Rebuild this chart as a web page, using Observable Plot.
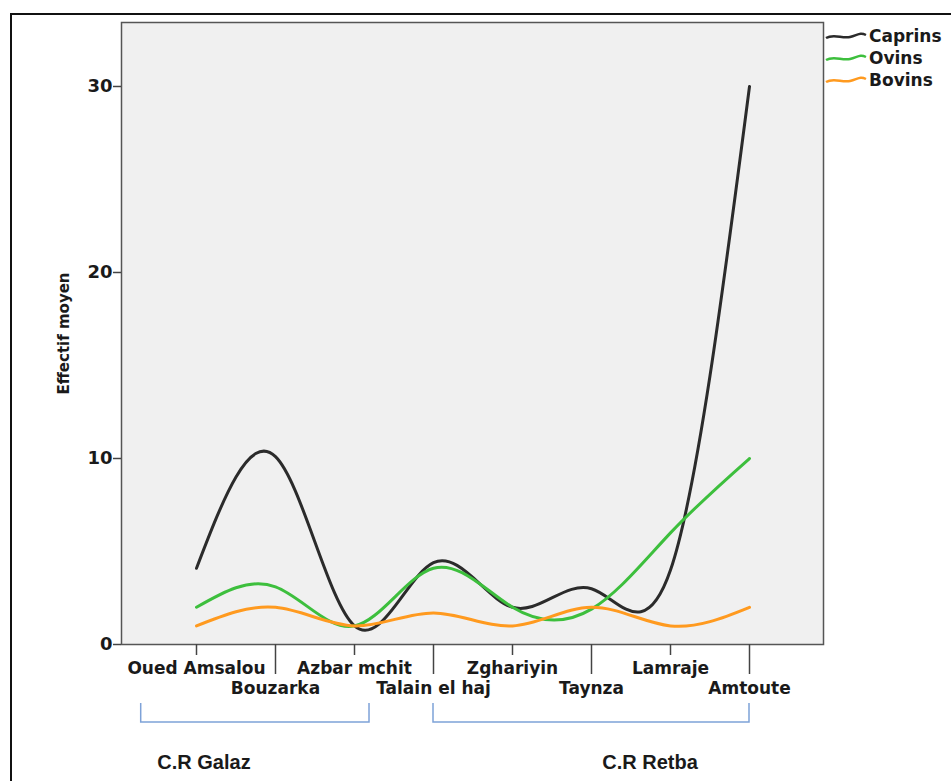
<!DOCTYPE html>
<html>
<head>
<meta charset="utf-8">
<script src="https://cdn.jsdelivr.net/npm/d3@7"></script>
<script src="https://cdn.jsdelivr.net/npm/@observablehq/plot@0.6"></script>
<style>
  html, body { margin: 0; padding: 0; background: #fff; width: 951px; height: 781px; overflow: hidden; }
  #wrap { position: relative; width: 951px; height: 781px; }
  #frame { position: absolute; left: 10px; top: 13px; width: 980px; height: 820px; border: 2.5px solid #111; box-sizing: border-box; }
  #chart { position: absolute; left: 0; top: 0; }
  #overlay { position: absolute; left: 0; top: 0; }
</style>
</head>
<body>
<div id="wrap">
  <div id="frame"></div>
  <div id="chart"></div>
  <svg id="overlay" width="951" height="781"></svg>
</div>
<script>
const categories = ["Oued Amsalou", "Bouzarka", "Azbar mchit", "Talain el haj", "Zghariyin", "Taynza", "Lamraje", "Amtoute"];
const seriesNames = ["Caprins", "Ovins", "Bovins"];
const seriesColors = ["#2b2b2b", "#3dbf3d", "#ff9a1f"];
const caprins = [4.1, 10.1, 1.0, 4.4, 2.0, 3.0, 4.0, 30.0];
const ovins   = [2.0, 3.1, 1.0, 4.1, 2.0, 1.9, 6.0, 10.0];
const bovins  = [1.0, 2.0, 1.0, 1.7, 1.0, 2.0, 1.0, 2.0];
const yTicks = [0, 10, 20, 30];
const groups = [
  {name: "C.R Galaz", from: "Oued Amsalou", to: "Azbar mchit"},
  {name: "C.R Retba", from: "Talain el haj", to: "Amtoute"}
];

const valuesBySeries = [caprins, ovins, bovins];
const data = [];
seriesNames.forEach((s, si) => {
  categories.forEach((c, ci) => data.push({series: s, cat: c, value: valuesBySeries[si][ci]}));
});

const font = "DejaVu Sans, Liberation Sans, Arial, sans-serif";

const plot = Plot.plot({
  width: 951,
  height: 781,
  marginLeft: 121,
  marginRight: 128,
  marginTop: 22,
  marginBottom: 137,
  style: {fontFamily: font, fontSize: "17px", fontWeight: "bold", color: "#1a1a1a", background: "transparent"},
  x: {type: "point", domain: categories, padding: 0.94},
  y: {domain: [0, 33.44]},
  color: {domain: seriesNames, range: seriesColors},
  marks: [
    Plot.frame({fill: "#f0f0f0", stroke: "#555", strokeWidth: 1.5}),
    Plot.line(data, {x: "cat", y: "value", stroke: "series", curve: "natural", strokeWidth: 3}),
    Plot.axisY(yTicks, {tickSize: 8, tickPadding: 1, stroke: "#444", strokeWidth: 1.5, fontSize: 18,
      label: "Effectif moyen", labelAnchor: "center", labelArrow: "none", labelOffset: 63}),
    Plot.axisX(categories.filter((d, i) => i % 2 === 0), {tickSize: 11, tickPadding: 6, stroke: "#444", strokeWidth: 1.5, label: null}),
    Plot.axisX(categories.filter((d, i) => i % 2 === 1), {tickSize: 30, tickPadding: 7, stroke: "#444", strokeWidth: 1.5, label: null})
  ]
});
document.getElementById("chart").appendChild(plot);

d3.select(plot).selectAll("[aria-label='y-axis label'] text").style("font-size", "15px");

const x = plot.scale("x");
const ov = d3.select("#overlay");
const step = x.apply(categories[1]) - x.apply(categories[0]);
const bracketExtent = [
  [x.apply(groups[0].from) - 0.7 * step, x.apply(groups[0].to) + 0.19 * step],
  [x.apply(groups[1].from), x.apply(groups[1].to)]
];
groups.forEach((g, i) => {
  const [x0, x1] = bracketExtent[i];
  ov.append("path")
    .attr("d", `M${x0},703V722H${x1}V703`)
    .attr("fill", "none").attr("stroke", "#7ea2d8").attr("stroke-width", 1.5);
});
const groupLabelX = [204, 650];
groups.forEach((g, i) => {
  ov.append("text").attr("x", groupLabelX[i]).attr("y", 769)
    .attr("text-anchor", "middle")
    .style("font-family", "Liberation Sans Narrow, Arial Narrow, Liberation Sans, sans-serif")
    .style("font-weight", "bold").style("font-size", "20px").style("fill", "#1a1a1a")
    .text(g.name);
});

seriesNames.forEach((s, i) => {
  const y = 36 + i * 22;
  ov.append("path")
    .attr("d", `M826,${y + 2} C834,${y - 3} 842,${y + 3} 850,${y + 1} S860,${y - 4} 866,${y - 1}`)
    .attr("fill", "none").attr("stroke", seriesColors[i]).attr("stroke-width", 2.5);
  ov.append("text").attr("x", 869).attr("y", y + 6)
    .style("font-family", font).style("font-weight", "bold").style("font-size", "17px").style("fill", "#1a1a1a")
    .text(s);
});
</script>
</body>
</html>
